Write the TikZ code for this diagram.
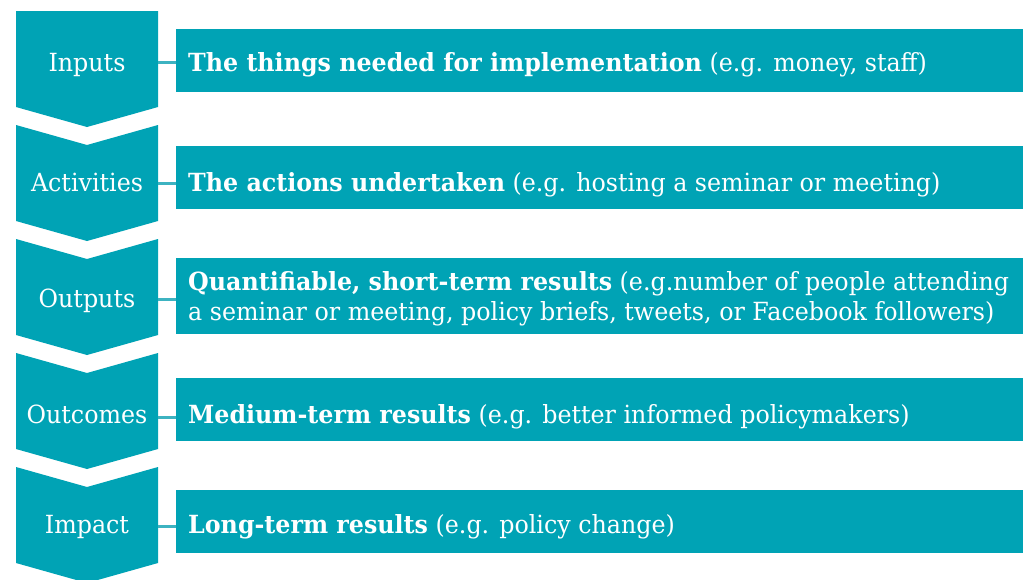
\documentclass[tikz,border=0pt]{standalone}
\usepackage{fontspec}
\setmainfont{DejaVu Serif}[FakeStretch=0.95]
\definecolor{teal}{HTML}{00A3B5}
\definecolor{linkteal}{HTML}{3DB3C1}
\begin{document}
\begin{tikzpicture}[x=1pt,y=-1pt,
  chev/.style={fill=teal,draw=none},
  stage/.style={text=white,font=\fontsize{25}{30}\selectfont,inner sep=0pt,anchor=base},
  band/.style={fill=teal,draw=none,anchor=north west,inner sep=0pt,minimum width=860pt},
  desc/.style={text=white,font=\fontsize{25}{30}\selectfont,inner sep=0pt,anchor=base west,align=left},
  link/.style={draw=linkteal,line width=3pt}]
\useasboundingbox (0,0) rectangle (1023,579);
\clip (0,0) rectangle (1023,579);
\fill[white] (0,0) rectangle (1023,579);

% chevron column: first block has a flat top, the rest a notched top
\fill[chev] (16,11) -- (158,11) -- (158,107) -- (87,127) -- (16,107) -- cycle;
\foreach \t in {125,239,353,467}{
  \fill[chev] (16,\t) -- (87,\t+20) -- (158,\t) -- (158,\t+96) -- (87,\t+116) -- (16,\t+96) -- cycle;
}

% stage labels
\node[stage] (s1) at (87,71) {Inputs};
\node[stage] (s2) at (87,191) {Activities};
\node[stage] (s3) at (87,307) {Outputs};
\node[stage] (s4) at (87,423) {Outcomes};
\node[stage] (s5) at (87,533) {Impact};

% join points on the right edge of the chevrons
\coordinate (j1) at (158,62);
\coordinate (j2) at (158,183);
\coordinate (j3) at (158,299);
\coordinate (j4) at (158,417);
\coordinate (j5) at (158,526);

% description bands
\node[band,minimum height=63pt] (b1) at (176,29) {};
\node[band,minimum height=63pt] (b2) at (176,146) {};
\node[band,minimum height=76pt] (b3) at (176,258) {};
\node[band,minimum height=63pt] (b4) at (176,378) {};
\node[band,minimum height=63pt] (b5) at (176,490) {};

\node[desc] (d1) at (188,71) {\textbf{The things needed for implementation} (e.g. money, staff)};
\node[desc] (d2) at (188,191) {\textbf{The actions undertaken} (e.g. hosting a seminar or meeting)};
\node[desc] (d3a) at (188,290) {\textbf{Quantifiable, short-term results} (e.g.number of people attending};
\node[desc] (d3b) at (188,320) {a seminar or meeting, policy briefs, tweets, or Facebook followers)};
\node[desc] (d4) at (188,423) {\textbf{Medium-term results} (e.g. better informed policymakers)};
\node[desc] (d5) at (188,533) {\textbf{Long-term results} (e.g. policy change)};

% short links from each stage to its band
\draw[link] (j1) -- (j1 -| b1.west);
\draw[link] (j2) -- (j2 -| b2.west);
\draw[link] (j3) -- (j3 -| b3.west);
\draw[link] (j4) -- (j4 -| b4.west);
\draw[link] (j5) -- (j5 -| b5.west);
\end{tikzpicture}
\end{document}
